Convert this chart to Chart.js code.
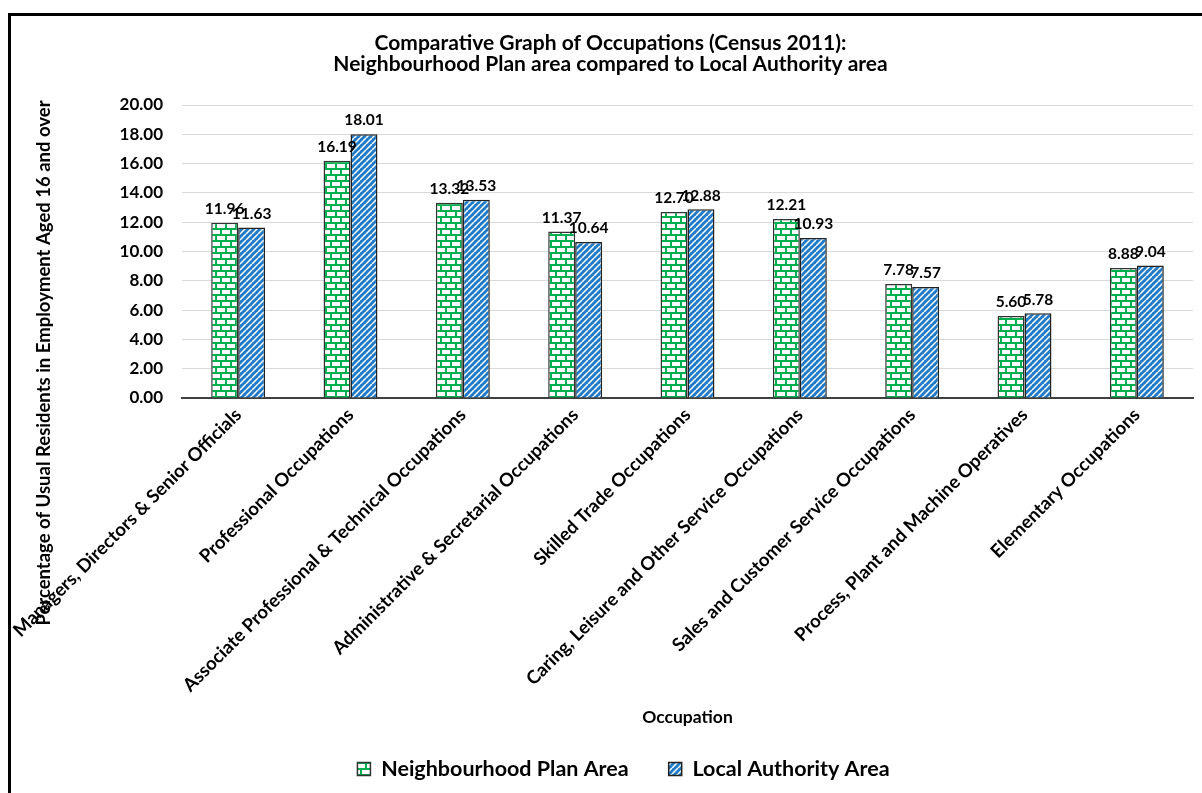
<!DOCTYPE html>
<html>
<head>
<meta charset="utf-8">
<script src="https://cdn.jsdelivr.net/npm/chart.js@4"></script>
<style>
body { margin: 0; background: #fff; }
#wrap { position: relative; width: 1202px; height: 793px; overflow: hidden; }
#frame { position: absolute; left: 8px; top: 13px; width: 1240px; height: 830px; border: 3px solid #000; pointer-events: none; }
</style>
</head>
<body>
<div id="wrap">
  <canvas id="myChart" width="1202" height="793"></canvas>
  <div id="frame"></div>
</div>
<script>
// data
const occupations = [
  'Managers, Directors & Senior Officials',
  'Professional Occupations',
  'Associate Professional & Technical Occupations',
  'Administrative & Secretarial Occupations',
  'Skilled Trade Occupations',
  'Caring, Leisure and Other Service Occupations',
  'Sales and Customer Service Occupations',
  'Process, Plant and Machine Operatives',
  'Elementary Occupations'
];
const neighbourhoodValues = [11.96, 16.19, 13.32, 11.37, 12.70, 12.21, 7.78, 5.60, 8.88];
const authorityValues = [11.63, 18.01, 13.53, 10.64, 12.88, 10.93, 7.57, 5.78, 9.04];
const seriesNames = ['Neighbourhood Plan Area', 'Local Authority Area'];
const chartTitle = ['Comparative Graph of Occupations (Census 2011):', 'Neighbourhood Plan area compared to Local Authority area'];
const xTitle = 'Occupation';
const yTitle = 'Percentage of Usual Residents in Employment Aged 16 and over';
const yMin = 0, yMax = 20, yStep = 2;

const FONT = 'Lato';

// fill patterns like the excel ones
function brickPattern() {
  const c = document.createElement('canvas');
  c.width = 10; c.height = 12;
  const g = c.getContext('2d');
  g.fillStyle = '#fff';
  g.fillRect(0, 0, 10, 12);
  g.fillStyle = '#00B050';
  g.fillRect(0, 0, 10, 2);
  g.fillRect(0, 6, 10, 2);
  g.fillRect(0, 0, 2, 6);
  g.fillRect(5, 6, 2, 6);
  return g.createPattern(c, 'repeat');
}

function stripePattern() {
  const c = document.createElement('canvas');
  c.width = 6; c.height = 6;
  const g = c.getContext('2d');
  g.fillStyle = '#1F7BC8';
  g.fillRect(0, 0, 6, 6);
  g.strokeStyle = '#fff';
  g.lineWidth = 1.5;
  g.beginPath();
  for (const k of [-6, 0, 6]) {
    g.moveTo(k, 6);
    g.lineTo(k + 6, 0);
  }
  g.stroke();
  return g.createPattern(c, 'repeat');
}

// value above every bar
const valueLabels = {
  id: 'valueLabels',
  afterDatasetsDraw(chart) {
    const ctx = chart.ctx;
    ctx.save();
    ctx.font = 'bold 15.5px ' + FONT;
    ctx.fillStyle = '#000';
    ctx.textAlign = 'center';
    ctx.textBaseline = 'bottom';
    chart.data.datasets.forEach((ds, i) => {
      chart.getDatasetMeta(i).data.forEach((bar, j) => {
        ctx.fillText(ds.data[j].toFixed(2), bar.x, bar.y - 6);
      });
    });
    ctx.restore();
  }
};

// excel centres the y title on the whole plot incl. labels
const yTitlePlugin = {
  id: 'yTitlePlugin',
  afterDraw(chart) {
    const ctx = chart.ctx;
    ctx.save();
    ctx.translate(44, 363);
    ctx.rotate(-Math.PI / 2);
    ctx.font = 'bold 18.5px ' + FONT;
    ctx.fillStyle = '#000';
    ctx.textAlign = 'center';
    ctx.textBaseline = 'middle';
    ctx.fillText(yTitle, 0, 0);
    ctx.restore();
  }
};

// nudge title and legend to sit where they are in the picture
const shiftBoxes = {
  id: 'shiftBoxes',
  afterLayout(chart) {
    if (chart.titleBlock) { chart.titleBlock.left += 14; chart.titleBlock.right += 14; }
    if (chart.legend) { chart.legend.left += 27; chart.legend.right += 27; }
  }
};

const ctx = document.getElementById('myChart');

new Chart(ctx, {
  type: 'bar',
  data: {
    labels: occupations,
    datasets: [{
      label: seriesNames[0],
      data: neighbourhoodValues,
      backgroundColor: brickPattern(),
      borderColor: '#333',
      borderWidth: 1.5,
      categoryPercentage: 0.48,
      barPercentage: 1.0
    }, {
      label: seriesNames[1],
      data: authorityValues,
      backgroundColor: stripePattern(),
      borderColor: '#222',
      borderWidth: 1.5,
      categoryPercentage: 0.48,
      barPercentage: 1.0
    }]
  },
  options: {
    responsive: false,
    animation: false,
    devicePixelRatio: 1,
    layout: { padding: { left: 0, right: 9, top: 0, bottom: 3.25 } },
    plugins: {
      title: {
        display: true,
        text: chartTitle,
        color: '#000',
        font: { family: FONT, size: 21, weight: 'bold', lineHeight: 1.0 },
        padding: { top: 32.5, bottom: 30.5 }
      },
      legend: {
        position: 'bottom',
        labels: {
          color: '#000',
          font: { family: FONT, size: 21.5, weight: 'bold' },
          boxWidth: 13,
          boxHeight: 13,
          padding: 40
        }
      },
      tooltip: { enabled: false }
    },
    scales: {
      x: {
        grid: { display: false, drawTicks: false },
        border: { display: true, color: '#404040', width: 2 },
        ticks: {
          color: '#000',
          font: { family: FONT, size: 18.5, weight: 'bold' },
          minRotation: 45,
          maxRotation: 45,
          autoSkip: false,
          padding: 6
        },
        title: {
          display: true,
          text: xTitle,
          color: '#000',
          font: { family: FONT, size: 17.5, weight: 'bold' },
          padding: { top: 0, bottom: -9.25 }
        },
        afterFit: (s) => { s.height = 320.25; }
      },
      y: {
        min: yMin,
        max: yMax,
        grid: { color: '#d9d9d9', drawTicks: false },
        border: { display: false },
        ticks: {
          stepSize: yStep,
          color: '#000',
          font: { family: FONT, size: 17, weight: 'bold' },
          padding: 19,
          callback: (v) => Number(v).toFixed(2)
        },
        afterFit: (s) => { s.width = 182; }
      }
    }
  },
  plugins: [valueLabels, yTitlePlugin, shiftBoxes]
});
</script>
</body>
</html>
